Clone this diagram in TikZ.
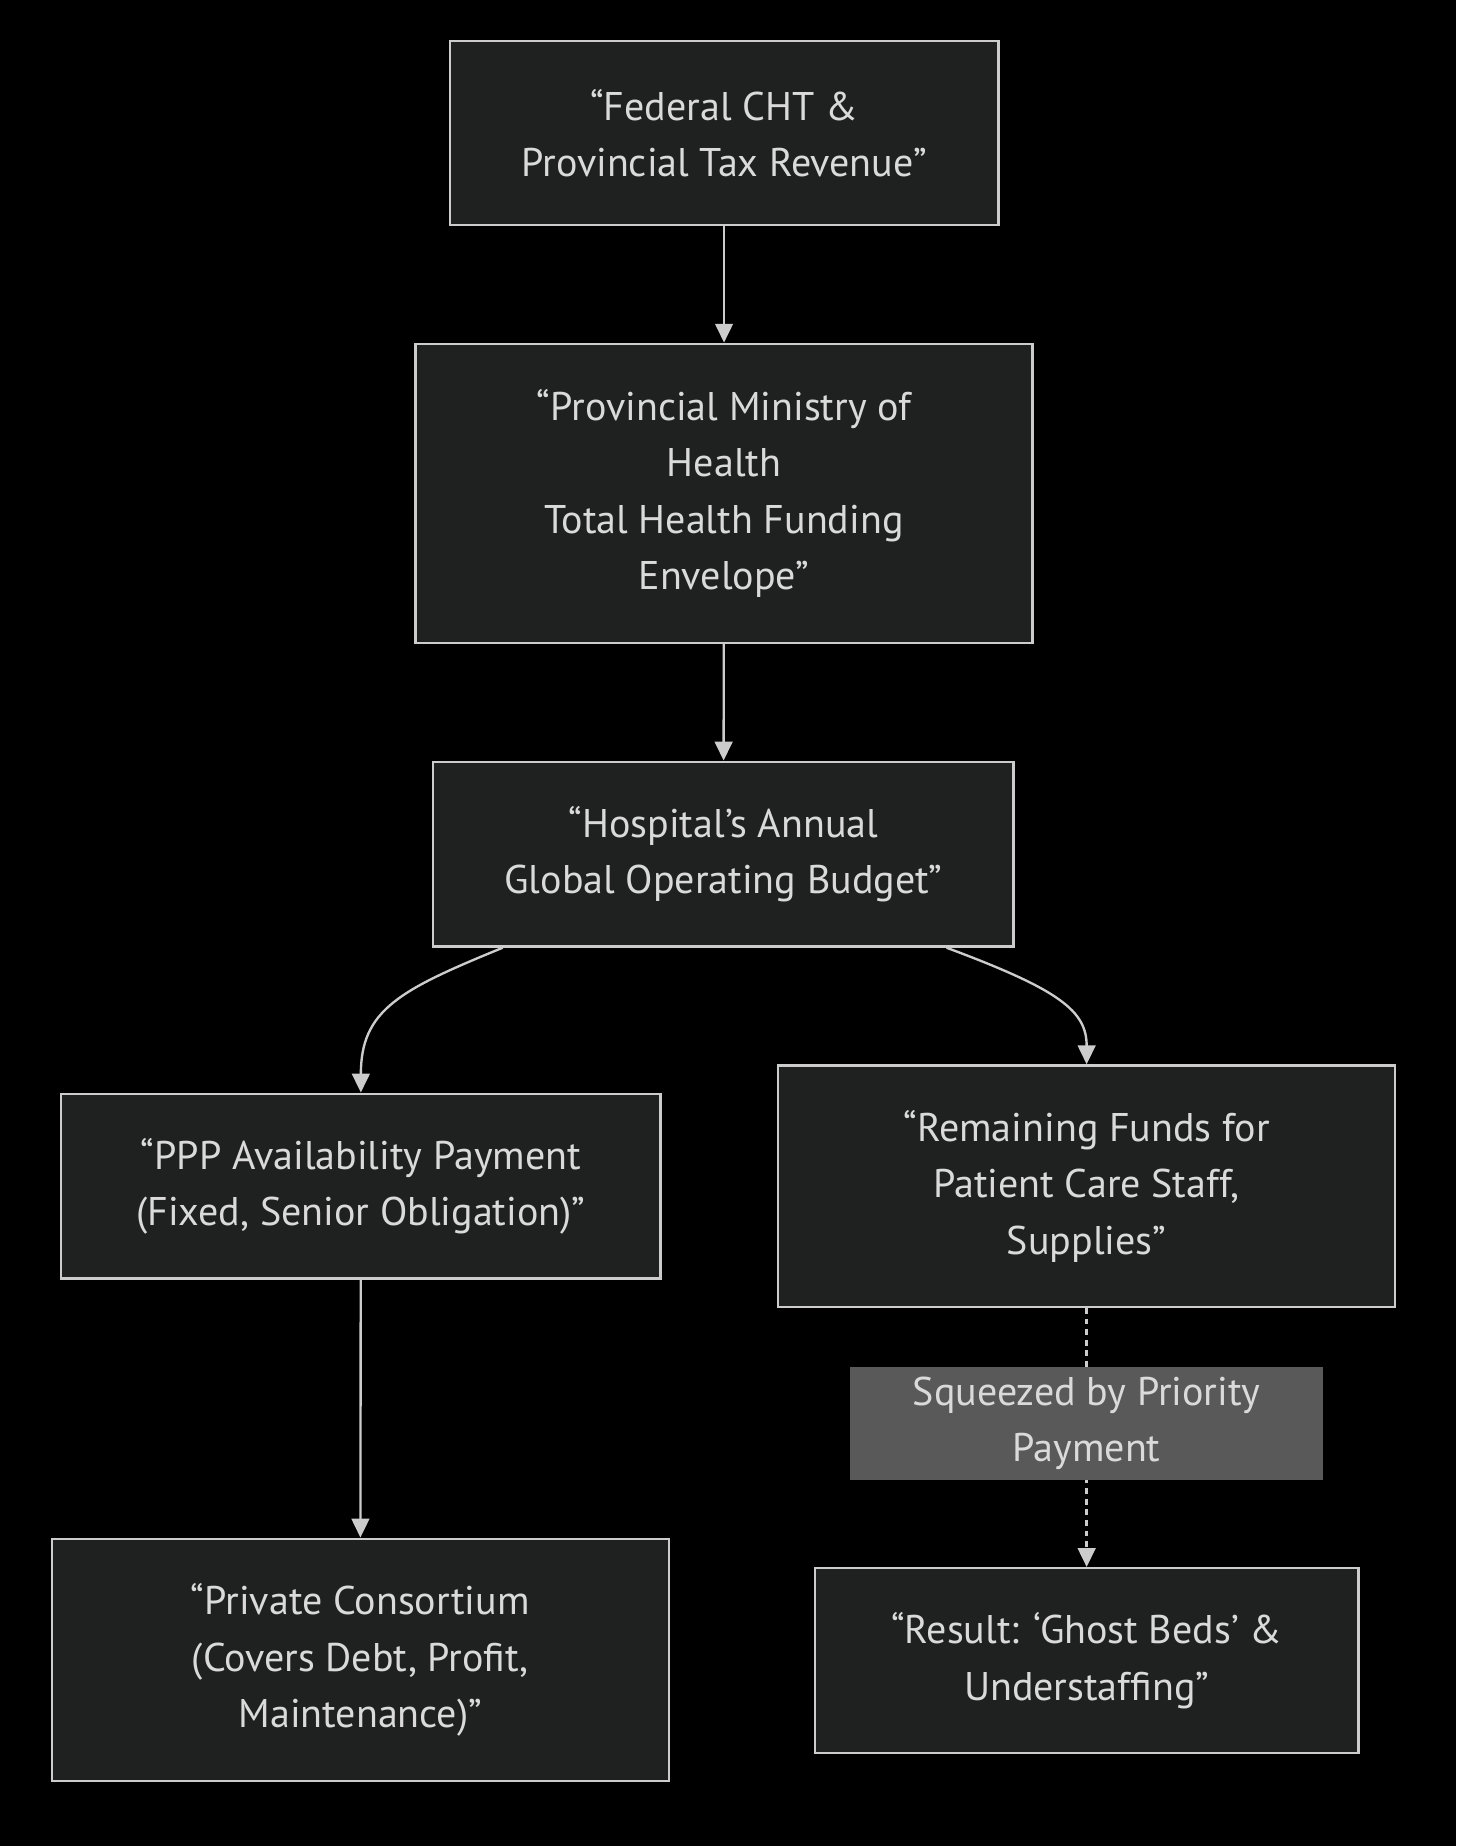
\documentclass[tikz,border=0pt]{standalone}
\usepackage{fontspec}
\setmainfont{PT Sans}
\definecolor{nodefill}{RGB}{31, 32, 32}
\definecolor{nodeline}{RGB}{204, 204, 204}
\definecolor{textgray}{RGB}{218, 218, 218}
\definecolor{labelgray}{RGB}{89, 89, 89}
\usetikzlibrary{arrows.meta, positioning, calc}

\begin{document}
\begin{tikzpicture}[x=0.5pt, y=-0.5pt,
  box/.style={draw=nodeline, fill=nodefill, line width=1pt, align=center, inner sep=0pt,
    text=textgray, font=\fontsize{17}{24}\selectfont},
  flow/.style={draw=nodeline, line width=1pt, -{Triangle[length=8pt, width=7.5pt]}},
  squeeze/.style={fill=labelgray, align=center, inner sep=0pt, text=textgray,
    font=\fontsize{17}{24}\selectfont, minimum width=201pt, minimum height=48pt}]

  % background
  \fill[black] (0,0) rectangle (1237,1568);

  % Funding chain
  \node[box, minimum width=233pt, minimum height=78pt] (fed) at (615,113) {“Federal CHT \&\\Provincial Tax Revenue”};
  \node[box, minimum width=262pt, minimum height=127pt] (moh) at (615,419) {“Provincial Ministry of\\Health\\Total Health Funding\\Envelope”};
  \node[box, minimum width=246.5pt, minimum height=78.5pt] (hosp) at (614.5,725.5) {“Hospital’s Annual\\Global Operating Budget”};

  % PPP side
  \node[box, minimum width=254.5pt, minimum height=78.5pt] (ppp) at (306.5,1007.5) {“PPP Availability Payment\\(Fixed, Senior Obligation)”};
  \node[box, minimum width=262pt, minimum height=103pt] (priv) at (306,1410) {“Private Consortium\\(Covers Debt, Profit,\\Maintenance)”};

  % Patient care side
  \node[box, minimum width=262pt, minimum height=102.5pt] (rem) at (923,1007.5) {“Remaining Funds for\\Patient Care Staff,\\Supplies”};
  \node[box, minimum width=231pt, minimum height=78.5pt] (res) at (923,1410.5) {“Result: ‘Ghost Beds’ \&\\Understaffing”};

  % Connectors
  \draw[flow] (fed) -- (moh);
  \draw[flow] (moh) -- (hosp);
  \draw[flow] ([xshift=30pt]hosp.south west) .. controls +(-88,36) and +(0,-70) .. (ppp.north);
  \draw[flow] ([xshift=-29pt]hosp.south east) .. controls +(97,36) and +(0,-45) .. (rem.north);
  \draw[flow] (ppp) -- (priv);
  \draw[flow, dash pattern=on 2.5pt off 2pt] (rem) -- node[squeeze, pos=0.446] (sq) {Squeezed by Priority\\Payment} (res);
\end{tikzpicture}
\end{document}
